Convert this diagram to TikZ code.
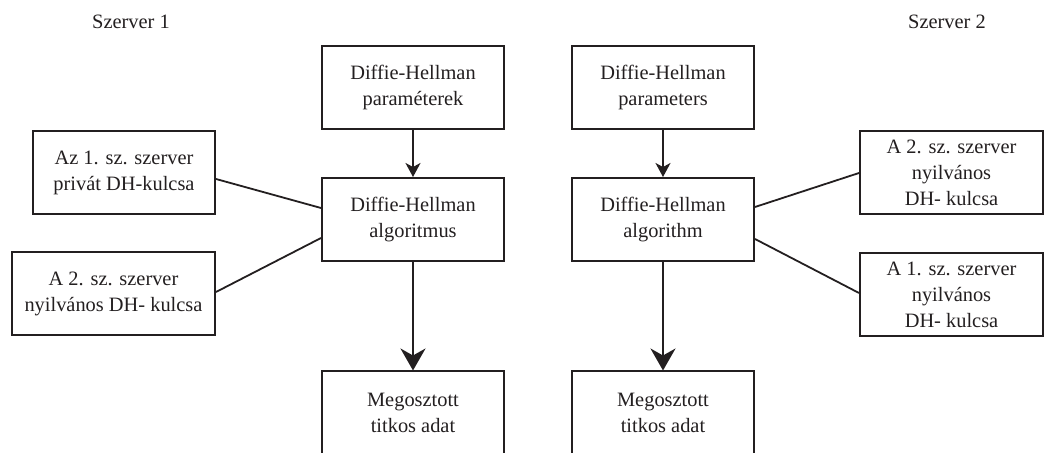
\documentclass[tikz,border=0pt]{standalone}
\usepackage{fontspec}
\setmainfont{Liberation Serif}
\usetikzlibrary{arrows.meta,calc}
\definecolor{ink}{HTML}{231F20}
\begin{document}
\begin{tikzpicture}[x=0.5pt,y=-0.5pt,
  txt/.style={font=\fontsize{10.2}{13}\selectfont,text=ink,align=center,inner sep=0pt},
  box/.style={txt,draw=ink,line width=1pt,minimum width=91pt,minimum height=41.5pt},
  link/.style={draw=ink,line width=0.9pt},
  arrsmall/.style={link,-{Stealth[length=7pt,width=7.5pt,inset=2pt]}},
  arrbig/.style={link,-{Stealth[length=11pt,width=12.5pt,inset=3.5pt]}}]
\useasboundingbox (0,0) rectangle (1055,453);

% side captions
\node[txt] (s1) at (131,22) {Szerver 1};
\node[txt] (s2) at (947,22) {Szerver 2};

% server 1
\node[box] (par1) at (413,87.5) {Diffie-Hellman\\paraméterek};
\node[box] (alg1) at (413,219.5) {Diffie-Hellman\\algoritmus};
\node[box] (out1) at (413,413) {Megosztott\\ titkos adat};
\node[box] (priv1) at (124,172.5) {Az 1. sz. szerver\\privát DH-kulcsa};
\node[box,minimum width=101.5pt] (pub2a) at (113.5,293.5) {A 2. sz. szerver\\nyilvános DH- kulcsa};

% server 2
\node[box] (par2) at (663,87.5) {Diffie-Hellman\\parameters};
\node[box] (alg2) at (663,219.5) {Diffie-Hellman\\algorithm};
\node[box] (out2) at (663,413) {Megosztott\\ titkos adat};
\node[box,minimum width=91.5pt] (pub2b) at (951.5,172.5) {A 2. sz. szerver\\nyilvános\\ DH- kulcsa};
\node[box,minimum width=91.5pt] (pub1) at (951.5,295) {A 1. sz. szerver\\nyilvános\\ DH- kulcsa};

% flow arrows
\draw[arrsmall] (par1.south) -- (alg1.north);
\draw[arrbig] (alg1.south) -- (out1.north);
\draw[arrsmall] (par2.south) -- (alg2.north);
\draw[arrbig] (alg2.south) -- (out2.north);

% key inputs
\draw[link] ($(priv1.east)+(0,6.5)$) -- ($(alg1.west)+(0,-11.5)$);
\draw[link] ($(pub2a.east)+(0,-1.5)$) -- ($(alg1.west)+(0,18.5)$);
\draw[link] ($(alg2.east)+(0,-12.5)$) -- ($(pub2b.west)+(0,0.5)$);
\draw[link] ($(alg2.east)+(0,19.5)$) -- ($(pub1.west)+(0,-2)$);
\end{tikzpicture}
\end{document}
